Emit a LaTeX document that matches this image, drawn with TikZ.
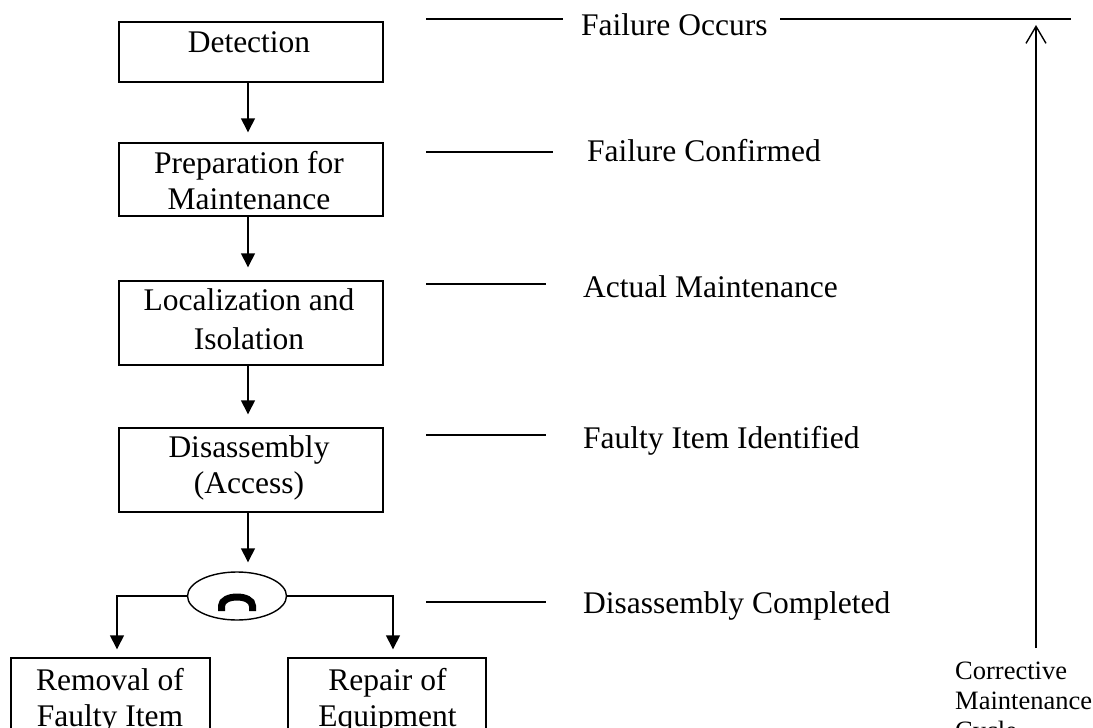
\documentclass[tikz,border=0pt]{standalone}
\usepackage{fontspec}
\setmainfont{Liberation Serif}
\usetikzlibrary{arrows.meta,shapes.geometric,calc}
\begin{document}
\begin{tikzpicture}[x=1pt,y=-1pt,
  stepbox/.style={draw,line width=1.4pt,rectangle,inner sep=0pt},
  boxtext/.style={align=center,inner sep=0pt,anchor=north,font=\fontsize{31.5}{36}\selectfont},
  tagtext/.style={inner sep=0pt,anchor=base west,font=\fontsize{31.5}{36}\selectfont},
  flow/.style={line width=1.4pt,-{Triangle[length=14pt,width=14pt]}},
  tick/.style={line width=1.4pt},
]
\useasboundingbox (0,0) rectangle (1093,728);
\clip (0,0) rectangle (1093,728);

% process steps
\node[stepbox,minimum width=264pt,minimum height=60pt] (det)  at (251,52)    {};
\node[stepbox,minimum width=264pt,minimum height=73pt] (prep) at (251,179.5) {};
\node[stepbox,minimum width=264pt,minimum height=84pt] (loc)  at (251,323)   {};
\node[stepbox,minimum width=264pt,minimum height=84pt] (dis)  at (251,470)   {};
\node[stepbox,minimum width=199pt,minimum height=120pt] (rem) at (110.5,718) {};
\node[stepbox,minimum width=198pt,minimum height=120pt] (rep) at (387,718)   {};

\node[boxtext] (detT)  at (249,31.5)  {Detection};
\node[boxtext] (prepT) at (249,151.5) {Preparation for\\Maintenance};
\node[boxtext] (locT)  at (249,288.5) {Localization and\\[3pt]Isolation};
\node[boxtext] (disT)  at (249,435.5) {Disassembly\\(Access)};
\node[boxtext] (remT)  at (110,668.5) {Removal of\\Faulty Item};
\node[boxtext] (repT)  at (387.5,668.5) {Repair of\\Equipment};

% branching point with its arch mark
\node[draw,ellipse,line width=1.4pt,inner sep=0pt,minimum width=99pt,minimum height=48pt] (ell) at (237,596) {};
\draw[line width=7pt] (221.5,611) -- (221.5,606)
  .. controls (221.5,594) and (252.5,594) .. (252.5,606) -- (252.5,611);

% flow arrows
\coordinate (ax) at (248,0);
\coordinate (bl) at (117,0);
\coordinate (br) at (393,0);
\draw[flow,shorten >=10pt] (det.south -| ax) -- (prep.north -| ax);
\draw[flow,shorten >=13pt] (prep.south -| ax) -- (loc.north -| ax);
\draw[flow,shorten >=13pt] (loc.south -| ax) -- (dis.north -| ax);
\draw[flow,shorten >=9pt] (dis.south -| ax) -- (ell.north -| ax);
\draw[flow,shorten >=8pt] (ell.west) -| (rem.north -| bl);
\draw[flow,shorten >=8pt] (ell.east) -| (rep.north -| br);

% milestones
\node[tagtext] (t1) at (581,35)  {Failure Occurs};
\node[tagtext] (t2) at (587,161) {Failure Confirmed};
\node[tagtext] (t3) at (583,297) {Actual Maintenance};
\node[tagtext] (t4) at (583,448) {Faulty Item Identified};
\node[tagtext] (t5) at (583,613) {Disassembly Completed};
\draw[tick] (426,19)  -- (563,19);
\draw[tick] (780,19)  -- (1071,19);
\draw[tick] (426,152) -- (553,152);
\draw[tick] (426,284) -- (546,284);
\draw[tick] (426,435) -- (546,435);
\draw[tick] (426,602) -- (546,602);

% cycle arrow
\node[anchor=north west,align=left,inner sep=0pt,font=\fontsize{26.5}{30}\selectfont] (cyc) at (955,662) {Corrective\\Maintenance\\Cycle};
\coordinate (cs) at (1036,648);
\coordinate (ce) at (1036,25);
\draw[line width=1.4pt,-{Straight Barb[length=17pt,width=20pt]}] (cs) -- (ce);
\end{tikzpicture}
\end{document}
